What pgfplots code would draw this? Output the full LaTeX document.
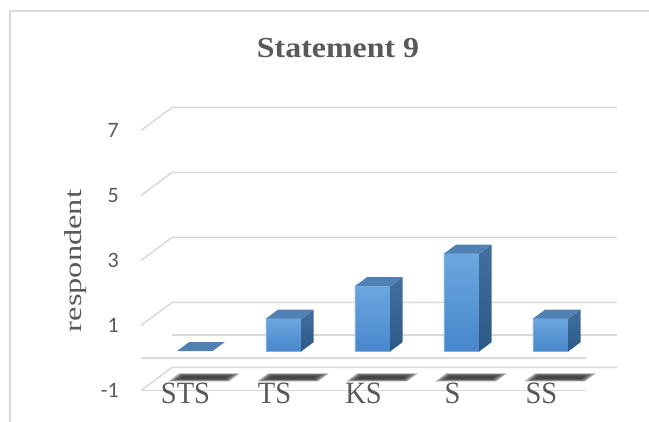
\documentclass[border=0pt]{standalone}
\usepackage{pgfplots}
\pgfplotsset{compat=1.18}
\usepackage{pgfplotstable}
\usepackage{fontspec}
\setmainfont{Liberation Serif}
\newfontfamily\titlefont[FakeStretch=1.1]{Liberation Serif}
\newfontfamily\catfont[FakeStretch=0.92]{Liberation Serif}
\newfontfamily\ylabfont[FakeStretch=1.33]{Liberation Serif}
\newfontfamily\tickfont{Carlito}

\definecolor{txt}{HTML}{595959}
\definecolor{gridc}{HTML}{D9D9D9}
\definecolor{frontTop}{HTML}{6CA6E0}
\definecolor{frontBot}{HTML}{4887CC}
\definecolor{topFace}{HTML}{5180B5}
\definecolor{sideTop}{HTML}{41709F}
\definecolor{sideBot}{HTML}{2C5986}
\definecolor{edge}{HTML}{7DB1E4}

% respondents per answer category
\pgfplotstableread{
idx cat val
0 STS 0
1 TS 1
2 KS 2
3 S 3
4 SS 1
}\responses

\begin{document}
\begin{tikzpicture}
\path[use as bounding box] (-141pt,-64pt) rectangle (508pt,358pt);
% chart area frame
\draw[gridc, line width=1.3pt] (-131pt,-80pt) -- (-131pt,347pt) -- (530pt,347pt);

\begin{axis}[
  anchor=origin, at={(0pt,0pt)},
  x={(89pt,0pt)}, y={(31pt,23pt)}, z={(0pt,32.5pt)},
  xmin=0, xmax=5, ymin=0, ymax=1, zmin=-1, zmax=7,
  hide axis, clip=false,
  gridline/.style={gridc, line width=1.5pt, mark=none},
]
% walls and floor lines
\pgfplotsinvokeforeach{-1,1,3,5,7}{
  \addplot3[gridline] coordinates {(0,0,#1) (0,1,#1) (5,1,#1)};
  \node[anchor=east, inner sep=0pt, xshift=-22pt, text=txt,
        font=\tickfont\fontsize{22}{26}\selectfont] at (axis cs:0,0,#1) {#1};
}
\addplot3[gridline] coordinates {(0,0,-1) (5,0,-1)};
\addplot3[gridline] coordinates {(0,1,0) (5,1,0)};
\addplot3[gridline] coordinates {(0,0,0) (5,0,0)};

% soft label shadows on the floor
\pgfplotsinvokeforeach{0,...,4}{
  \foreach \ex/\ed in {0.05/0.06, 0.025/0.03, 0/0, -0.03/-0.035}{
    \pgfmathsetmacro\xa{#1+0.22-\ex}
    \pgfmathsetmacro\xb{#1+0.8+\ex}
    \pgfmathsetmacro\da{0.46-\ed}
    \pgfmathsetmacro\db{0.68+\ed}
    \addplot3[draw=none, fill=black!85, fill opacity=0.38, mark=none]
      coordinates {(\xa,\da,-1) (\xb,\da,-1) (\xb,\db,-1) (\xa,\db,-1)};
  }
  \pgfplotstablegetelem{#1}{cat}\of\responses
  \edef\temp{\noexpand\node[anchor=base, inner sep=0pt, yshift=-13.5pt, text=txt,
        font=\noexpand\catfont\noexpand\fontsize{31}{36}\noexpand\selectfont]
        at (axis cs:#1+0.5,0,-1) {\pgfplotsretval};}
  \temp
}

% bars
\pgfplotsinvokeforeach{0,...,4}{
  \pgfplotstablegetelem{#1}{val}\of\responses
  \edef\v{\pgfplotsretval}
  \pgfmathsetmacro\xa{#1+0.3}
  \pgfmathsetmacro\xb{#1+0.7}
  \ifdim\v pt>0pt
    \addplot3[draw=edge, line width=0.5pt, top color=frontTop, bottom color=frontBot, mark=none]
      coordinates {(\xa,0.3,0) (\xb,0.3,0) (\xb,0.3,\v) (\xa,0.3,\v) (\xa,0.3,0)};
    \addplot3[draw=none, top color=sideTop, bottom color=sideBot, mark=none]
      coordinates {(\xb,0.3,0) (\xb,0.69,0) (\xb,0.69,\v) (\xb,0.3,\v)};
  \fi
  \addplot3[draw=none, fill=topFace, mark=none]
    coordinates {(\xa,0.3,\v) (\xb,0.3,\v) (\xb,0.69,\v) (\xa,0.69,\v)};
}
\end{axis}

\node[anchor=base, text=txt, font=\titlefont\bfseries\fontsize{29}{34}\selectfont]
  at (197pt,300pt) {Statement 9};
\node[rotate=90, text=txt, font=\ylabfont\fontsize{24.4}{28}\selectfont]
  at (-65pt,97pt) {respondent};
\end{tikzpicture}
\end{document}
